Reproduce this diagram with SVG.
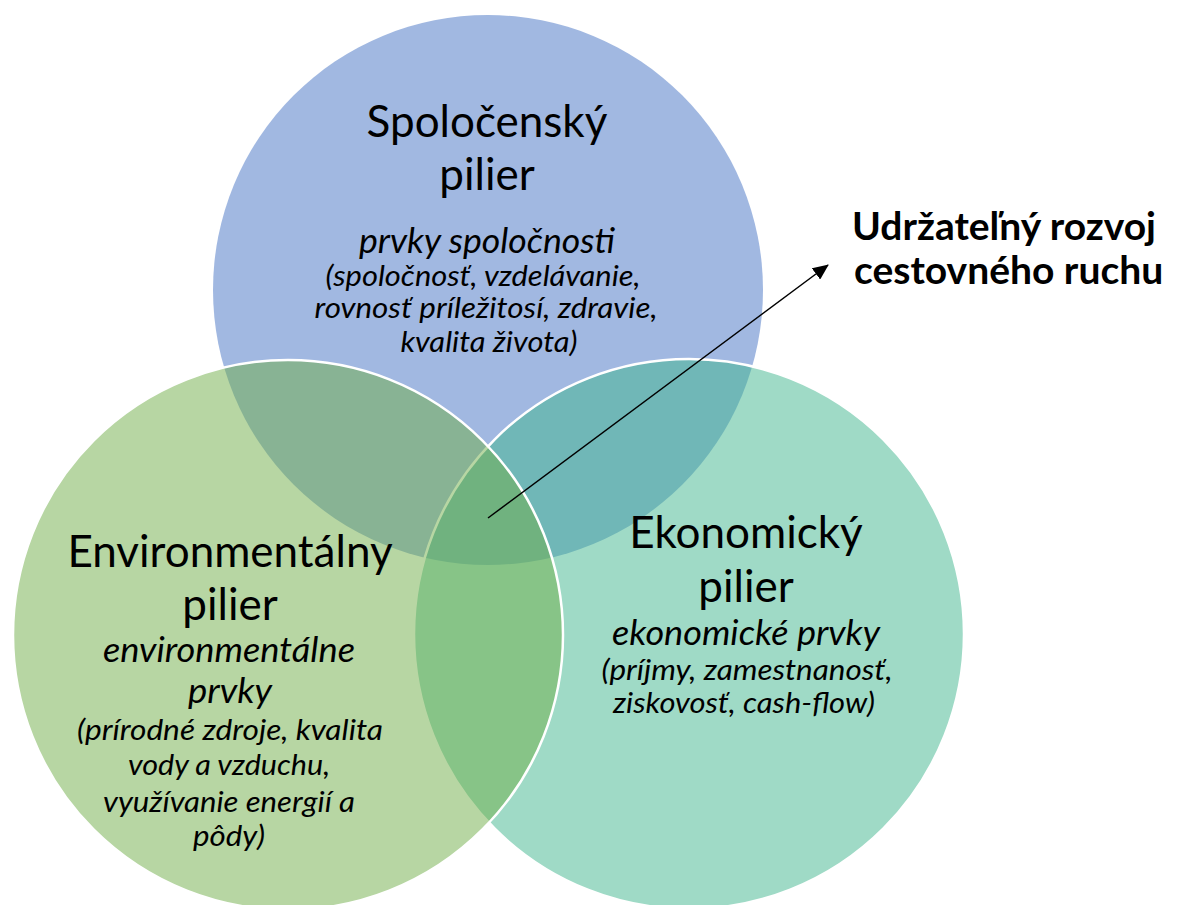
<svg xmlns="http://www.w3.org/2000/svg" width="1185" height="905" viewBox="0 0 1185 905">
  <style>
    .circ { fill-opacity: 0.5; }
    .edge { stroke: #FFFFFF; stroke-width: 2.5; }
    .head { font-family: Lato, "Open Sans", sans-serif; font-size: 44px; fill: #000; text-anchor: middle; }
    .sub { font-family: Lato, "Open Sans", sans-serif; font-size: 35px; font-style: italic; fill: #000; text-anchor: middle; }
    .body { font-family: Lato, "Open Sans", sans-serif; font-size: 29px; font-style: italic; fill: #000; text-anchor: middle; }
    .title { font-family: Lato, "Open Sans", sans-serif; font-size: 39px; font-weight: bold; fill: #000; }
  </style>
  <defs>
    <marker id="arrow" viewBox="0 0 16 14" refX="15" refY="7" markerWidth="16" markerHeight="14" markerUnits="userSpaceOnUse" orient="auto">
      <path d="M0,0 L16,7 L0,14 z" fill="#000"/>
    </marker>
  </defs>
  <rect width="1185" height="905" fill="#FFFFFF"/>
  <g id="node-spolocensky">
    <circle class="circ" cx="488" cy="290" r="275" fill="#4472C4"/>
  </g>
  <g id="node-ekonomicky">
    <circle class="circ edge" cx="689" cy="634" r="275" fill="#3FB58D"/>
  </g>
  <g id="node-environmentalny">
    <circle class="circ edge" cx="288" cy="635" r="275" fill="#70AD47"/>
  </g>
  <g id="labels-spolocensky">
    <text class="head" x="487" y="137">Spoločenský</text>
    <text class="head" x="487" y="190">pilier</text>
    <text class="sub" x="487" y="253" textLength="256" lengthAdjust="spacingAndGlyphs">prvky spoločnosti</text>
    <text class="body" x="483" y="286" textLength="315" lengthAdjust="spacingAndGlyphs">(spoločnosť, vzdelávanie,</text>
    <text class="body" x="486" y="318" textLength="343" lengthAdjust="spacingAndGlyphs">rovnosť príležitosí, zdravie,</text>
    <text class="body" x="489" y="352" textLength="177" lengthAdjust="spacingAndGlyphs">kvalita života)</text>
  </g>
  <g id="labels-environmentalny">
    <text class="head" x="230" y="567">Environmentálny</text>
    <text class="head" x="230" y="620">pilier</text>
    <text class="sub" x="229" y="662" textLength="252" lengthAdjust="spacingAndGlyphs">environmentálne</text>
    <text class="sub" x="230" y="703" textLength="84" lengthAdjust="spacingAndGlyphs">prvky</text>
    <text class="body" x="230" y="740" textLength="306" lengthAdjust="spacingAndGlyphs">(prírodné zdroje, kvalita</text>
    <text class="body" x="229" y="775" textLength="202" lengthAdjust="spacingAndGlyphs">vody a vzduchu,</text>
    <text class="body" x="229" y="812" textLength="252" lengthAdjust="spacingAndGlyphs">využívanie energií a</text>
    <text class="body" x="229" y="846" textLength="72" lengthAdjust="spacingAndGlyphs">pôdy)</text>
  </g>
  <g id="labels-ekonomicky">
    <text class="head" x="746" y="548">Ekonomický</text>
    <text class="head" x="746" y="602">pilier</text>
    <text class="sub" x="746" y="645" textLength="268" lengthAdjust="spacingAndGlyphs">ekonomické prvky</text>
    <text class="body" x="747" y="680" textLength="291" lengthAdjust="spacingAndGlyphs">(príjmy, zamestnanosť,</text>
    <text class="body" x="744" y="713" textLength="262" lengthAdjust="spacingAndGlyphs">ziskovosť, cash-flow)</text>
  </g>
  <g id="connectors">
    <line x1="488" y1="518" x2="828" y2="265" stroke="#000" stroke-width="1.5" marker-end="url(#arrow)"/>
  </g>
  <g id="node-udrzatelny">
    <text class="title" x="852" y="240">Udržateľný rozvoj</text>
    <text class="title" x="854" y="284">cestovného ruchu</text>
  </g>
</svg>
